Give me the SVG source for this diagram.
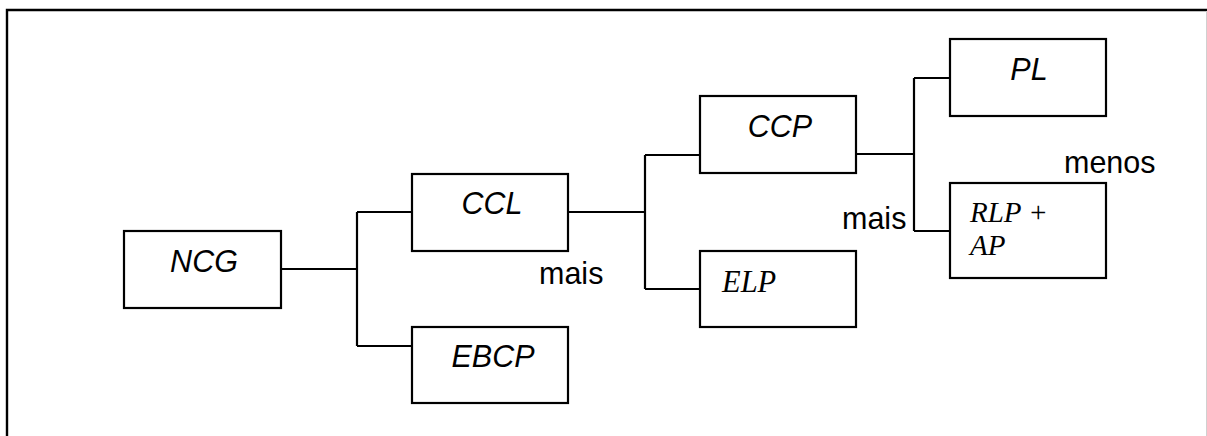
<svg xmlns="http://www.w3.org/2000/svg" width="1207" height="436" viewBox="0 0 1207 436">
<style>
.box{fill:#fff;stroke:#000;stroke-width:2.2}
.lbl{font-family:"Liberation Sans",Arial,sans-serif;font-style:italic;font-size:30.5px;fill:#000;text-anchor:middle}
.tlbl{font-family:"Liberation Serif","Times New Roman",serif;font-style:italic;font-size:29px;fill:#000}
.note{font-family:"Liberation Sans",Arial,sans-serif;font-size:30.5px;fill:#000}
.con{fill:none;stroke:#000;stroke-width:2.2}
</style>
<rect width="1207" height="436" fill="#fff"/>
<g id="frame">
<path d="M7 436 V10 H1207" fill="none" stroke="#000" stroke-width="2.4"/>
<line x1="1206.5" y1="11" x2="1206.5" y2="436" stroke="#d0d0d0" stroke-width="1"/>
</g>
<g id="connectors">
<path class="con" d="M281 269 H357 M357 212 V346 M357 212 H413 M357 346 H413"/>
<path class="con" d="M568 212 H645 M645 155 V289 M645 155 H702 M645 289 H702"/>
<path class="con" d="M856 154 H914 M914 78 V231 M914 78 H952 M914 231 H952"/>
</g>
<g id="NCG"><rect class="box" x="124" y="231" width="157" height="77"/><text class="lbl" x="204" y="272">NCG</text></g>
<g id="CCL"><rect class="box" x="412" y="174" width="156" height="77"/><text class="lbl" x="492" y="214">CCL</text></g>
<g id="EBCP"><rect class="box" x="412" y="327" width="156" height="76"/><text class="lbl" x="493" y="367">EBCP</text></g>
<g id="CCP"><rect class="box" x="700" y="96" width="156" height="77"/><text class="lbl" x="780" y="137">CCP</text></g>
<g id="ELP"><rect class="box" x="700" y="251" width="156" height="76"/><text class="tlbl" x="722" y="292" style="font-size:30.5px">ELP</text></g>
<g id="PL"><rect class="box" x="950" y="39" width="156" height="77"/><text class="lbl" x="1029" y="80">PL</text></g>
<g id="RLP"><rect class="box" x="950" y="183" width="156" height="95"/><text class="tlbl" x="970" y="222">RLP +</text><text class="tlbl" x="970" y="255">AP</text></g>
<g id="labels">
<text class="note" x="539" y="284">mais</text>
<text class="note" x="842" y="229">mais</text>
<text class="note" x="1064" y="173">menos</text>
</g>
</svg>
